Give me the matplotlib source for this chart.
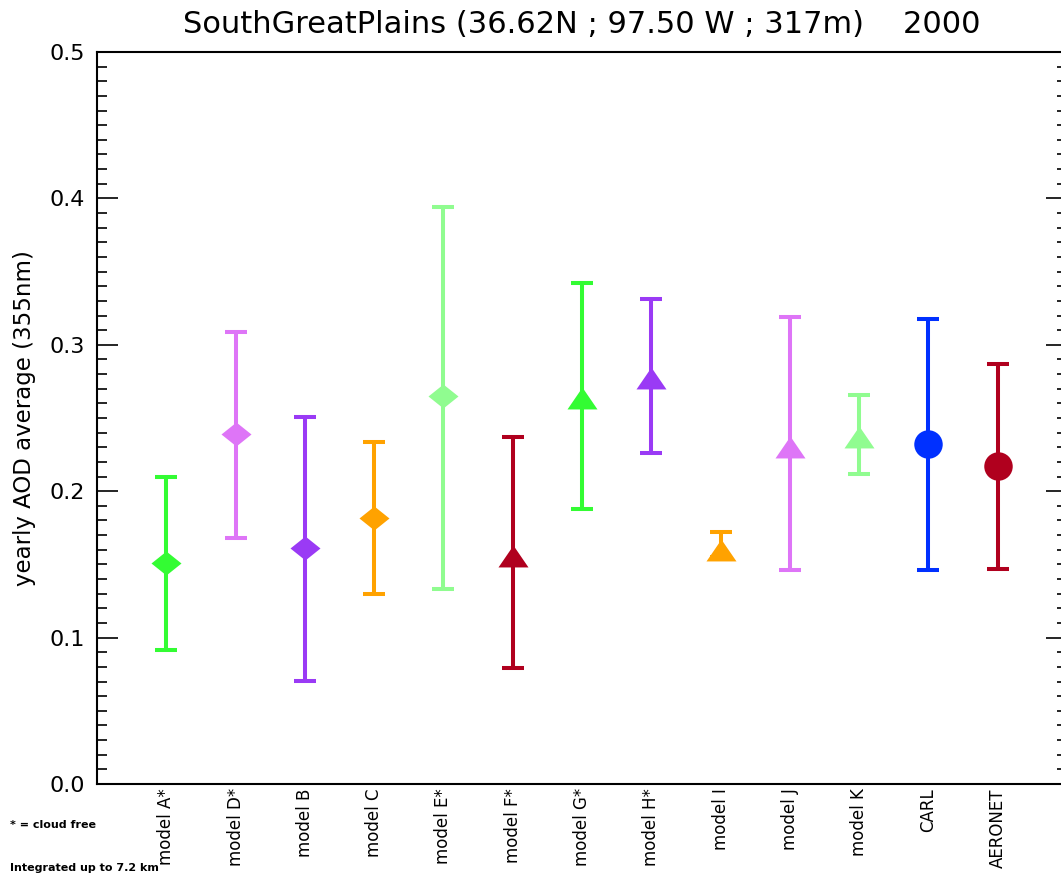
import numpy as np
import matplotlib
matplotlib.use('Agg')
import matplotlib.pyplot as plt
from matplotlib.ticker import MultipleLocator, FormatStrFormatter

# yearly AOD averages
labels = ['model A*', 'model D*', 'model B', 'model C', 'model E*', 'model F*',
          'model G*', 'model H*', 'model I', 'model J', 'model K', 'CARL', 'AERONET']
mean = [0.151, 0.239, 0.161, 0.182, 0.265, 0.156, 0.264, 0.2775, 0.160, 0.230, 0.237, 0.232, 0.217]
upper = [0.210, 0.309, 0.251, 0.2336, 0.394, 0.237, 0.342, 0.331, 0.172, 0.319, 0.266, 0.3176, 0.2867]
lower = [0.0915, 0.168, 0.0704, 0.130, 0.1334, 0.079, 0.188, 0.226, 0.155, 0.146, 0.2115, 0.146, 0.147]
colors = ['#33fc33', '#de75f7', '#9a3af5', '#ffa200', '#90fc90', '#b0001e',
          '#33fc33', '#9a3af5', '#ffa200', '#de75f7', '#90fc90', '#0030ff', '#b0001e']
shapes = ['diamond'] * 5 + ['triangle'] * 6 + ['circle'] * 2

diamond = [(-1, 0), (0, 0.8), (1, 0), (0, -0.8), (-1, 0)]
triangle = [(0, 0.73), (-1, -0.73), (1, -0.73), (0, 0.73)]
marker_of = {'diamond': (diamond, 21.6), 'triangle': (triangle, 21.6), 'circle': ('o', 20.5)}

fig = plt.figure(figsize=(10.61, 8.73), dpi=100)
ax = fig.add_axes([97 / 1061, 1 - 784 / 873, (1067 - 97) / 1061, (784 - 52) / 873])

x = np.arange(1, len(labels) + 1)
for i in range(len(labels)):
    m, ms = marker_of[shapes[i]]
    ax.errorbar(x[i], mean[i],
                yerr=[[mean[i] - lower[i]], [upper[i] - mean[i]]],
                fmt='none', ecolor=colors[i], elinewidth=2.9, capsize=8, capthick=2.9)
    ax.plot(x[i], mean[i], marker=m, markersize=ms, color=colors[i],
            markeredgewidth=0, linestyle='none', zorder=5)

ax.set_xlim(0, 14)
ax.set_ylim(0, 0.5)
ax.set_xticks(x)
ax.set_xticklabels(labels, rotation=90, fontsize=12, va='top', ha='center')
ax.tick_params(axis='x', length=0, pad=3)
ax.yaxis.set_major_locator(MultipleLocator(0.1))
ax.yaxis.set_minor_locator(MultipleLocator(0.01))
ax.yaxis.set_major_formatter(FormatStrFormatter('%.1f'))
ax.tick_params(axis='y', which='both', direction='in', right=True, labelsize=16, width=1.2, pad=8.5)
ax.tick_params(axis='y', which='major', length=15)
ax.tick_params(axis='y', which='minor', length=7.2)
for s in ax.spines.values():
    s.set_linewidth(1.5)

ax.set_ylabel('yearly AOD average (355nm)', fontsize=16.5, labelpad=10)
ax.set_title('SouthGreatPlains (36.62N ; 97.50 W ; 317m)    2000', fontsize=22, pad=14)

fig.text(10 / 1061, 1 - 825 / 873, '* = cloud free', fontsize=8, weight='bold', va='center')
fig.text(10 / 1061, 1 - 868 / 873, 'Integrated up to 7.2 km', fontsize=8, weight='bold', va='center')

fig.savefig('out.png', dpi=100)
